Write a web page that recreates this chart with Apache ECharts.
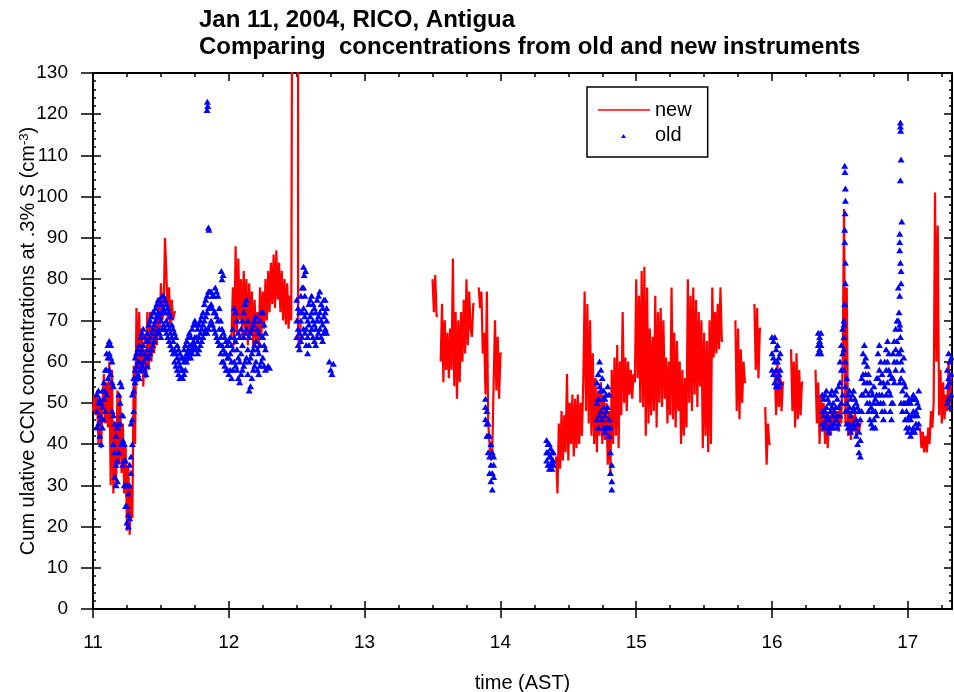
<!DOCTYPE html>
<html>
<head>
<meta charset="utf-8">
<script src="https://cdn.jsdelivr.net/npm/echarts@6/dist/echarts.min.js"></script>
<style>
html, body { margin: 0; padding: 0; background: #fff; }
#chart { width: 954px; height: 692px; }
</style>
</head>
<body>
<div id="chart"></div>
<script>
// time step (hours) between consecutive readings in each segment
const step = 0.01;

// "new" instrument, segments of readings, '-' = no data
const newStarts = [11.00, 12.02, 13.50, 14.41, 15.73, 16.32, 17.09];
const newA = [
  48, 52, 47, 53, 40, 51, 39, 50, 57, 45,
  55, 44, 60, 30, 58, 28, 45, 30, 53, 35,
  52, 33, 45, 28, 40, 19, 35, 18, 30, 22,
  59, 40, 73, 55, 72, 57, 68, 54, 63, 56,
  72, 58, 72, 60, 68, 62, 71, 64, 75, 66,
  79, 70, 72, 90, 82, 70, 78, 68, 75, 70,
  72
];
const newB = [
  66, 78, 64, 88, 67, 85, 70, 80, 66, 82,
  68, 80, 64, 79, 67, 77, 63, 75, 65, 72,
  63, 78, 66, 77, 68, 80, 70, 82, 72, 84,
  74, 86, 73, 87, 75, 84, 72, 82, 70, 80,
  69, 79, 68, 76, 70, 200, 200, 200, 200, 66,
  63, 70
];
const newC = [
  80, 72, 81, 71, '-', '-', 60, 74, 55, 70,
  58, 67, 56, 68, 58, 85, 54, 72, 51, 70,
  55, 72, 60, 75, 62, 80, 64, 77, 68, 66,
  74, '-', '-', '-', 78, 73, 77, 62, 67, 52,
  77, 45, 40, 36, 38, 55, 70, 53, 66, 51,
  62
];
const newD = [
  37, 28, 45, 34, 48, 36, 47, 38, 57, 36,
  50, 40, 52, 37, 51, 39, 52, 40, 50, 42,
  55, 77, 48, 74, 45, 70, 42, 62, 40, 56,
  38, 53, 42, 55, 40, 52, 41, 50, 35, 48,
  33, 58, 40, 61, 42, 64, 39, 60, 47, 72,
  50, 61, 48, 60, 52, 58, 51, 57, 55, 80,
  56, 76, 50, 82, 49, 83, 42, 78, 45, 68,
  47, 66, 48, 76, 44, 72, 50, 73, 49, 70,
  51, 61, 45, 60, 47, 78, 46, 67, 44, 65,
  48, 60, 40, 58, 42, 56, 44, 80, 50, 76,
  48, 78, 52, 75, 49, 72, 54, 70, 39, 67,
  42, 65, 38, 70, 40, 78, 61, 72, 62, 74,
  63, 78, 65
];
const newE = [
  70, 48, 68, 46, 63, 50, 60, 55, '-', '-',
  '-', '-', '-', '-', 74, 58, 73, 56, 68, '-',
  '-', '-', 49, 35, 45, 40, '-', '-', '-', 58,
  47, 60, 49, 57, 48, 55, '-', '-', '-', '-',
  '-', 63, 48, 60, 44, 62, 46, 58, 47, 55
];
const newF = [
  58, 45, 55, 40, 52, 43, 50, 40, 48, 39,
  47, 42, 50, 44, 49, 45, 48, 43, 50, 45,
  60, 97, 45, 78, 42, 48, 41, 47, 43, 48,
  42, 46, 43, 45
];
const newG = [
  44, 39, 43, 38, 42, 38, 44, 40, 48, 44,
  50, 101, 60, 93, 47, 58, 45, 55, 46, 52,
  48, 60, 50, 57
];
const newSegments = [newA, newB, newC, newD, newE, newF, newG];

// "old" instrument, several readings per time step
const oldStarts = [11.03, 12.50, 13.89, 14.34, 14.71, 16.00, 16.34, 17.29];
const oldA = [
  [44,48,52],[45,50,53],[42,47,51],[40,46,50],[44,49,53],[46,51,55],[48,53,58],[52,58,62],[56,61,64],[58,62,65],
  [57,61,64],[48,55,60],[40,47,54],[32,38,45],[30,35,42],[31,36,44],[38,45,52],[45,50,55],[40,47,54],[35,41,47],
  [30,36,40],[25,30,36],[21,25,30],[20,23,28],[22,30,35],[33,37,45],[40,46,52],[48,53,56],[55,58,61],[56,59,62],
  [57,60,63],[56,60,64],[58,62,66],[59,63,67],[60,64,68],[58,62,66],[57,61,65],[59,63,67],[61,65,69],[62,66,70],
  [63,67,71],[64,68,72],[65,69,72],[66,70,73],[67,71,74],[68,72,75],[67,71,75],[66,70,74],[68,72,76],[69,73,76],
  [68,72,75],[67,70,74],[66,69,73],[65,68,72],[64,67,71],[63,66,69],[62,65,68],[60,63,67],[59,62,66],[58,61,64],
  [57,60,63],[56,59,62],[56,58,61],[56,58,61],[57,60,63],[58,61,64],[60,62,65],[61,63,66],[62,64,67],[61,63,66],
  [62,64,68],[63,65,69],[64,66,70],[63,66,69],[62,65,68],[63,66,69],[64,67,70],[65,68,71],[66,69,72],[67,70,74],
  [68,71,75],[67,72,76],[68,73,77],[69,73,77],[70,74,77],[69,73,76],[68,72,76],[67,72,78],[66,71,77],[65,70,76],
  [64,68,73],[62,66,70],[60,64,68],[60,63,67],[59,62,66],[58,62,65],[58,61,64],[57,61,65],[58,62,66],[56,60,64],
  [58,63,68],[60,66,73],[59,65,72],[58,63,70],[56,61,67],[55,60,66],[57,62,68],[58,64,70],[59,66,72],[60,67,74],
  [61,68,75],[57,63,70],[53,60,66],[54,61,67],[56,62,68],[58,63,69],[59,64,70],[60,65,71],[58,63,68],[57,62,67],
  [59,64,70],[60,66,72],[61,66,72],[59,64,69],[58,63,67]
];
const oldB = [
  [66,70,75],[64,68,73],[63,67,72],[65,70,76],[66,72,78],[68,73,78],[67,71,76],[64,68,72],[62,66,70],[64,69,74],
  [67,71,75],[68,72,76],[66,70,74],[65,69,73],[64,68,72],[66,70,75],[67,71,76],[68,72,77],[66,70,74],[65,69,73],
  [67,71,75],[68,72,75],[67,70,73]
];
const oldC = [[46,49,51],[42,45,48],[38,42,45],[33,37,42],[31,35,40],[29,33,38],[32,35,37]];
const oldD = [[36,38,41],[35,38,40],[34,37,40],[35,37,39],[34,36,38],[35,36,38]];
const oldE = [
  [46,50,55],[44,51,57],[47,54,60],[48,53,58],[46,51,56],[44,49,53],[43,47,51],[44,48,52],[44,49,54],[42,46,52],
  [33,38,44],[29,31,35]
];
const oldF = [[58,62,66],[57,61,65],[55,60,66],[54,58,63],[56,60,64],[54,57,61],[55,58,62]];
const oldG = [
  [62,64,67],[63,65,66],[62,64,67],[45,48,52],[44,47,51],[45,48,52],[46,49,53],[44,47,51],[43,46,50],[44,48,52],
  [45,49,53],[44,47,50],[45,48,52],[46,49,53],[44,47,51],[45,49,54],[47,55,60],[50,58,64],[52,62,68],[58,63,69],
  [48,54,60],[45,50,56],[44,48,52],[45,49,53],[43,47,51],[44,48,52],[45,49,53],[44,48,51],[42,46,50],[40,45,49],
  [38,43,48],[37,41,46],[48,52,56],[52,57,62],[55,60,64],[53,57,61],[50,55,59],[48,52,57],[46,50,55],[45,49,53],
  [44,48,52],[46,50,54],[44,48,51],[47,52,56],[50,56,62],[52,58,64],[50,55,60],[48,52,57],[46,50,55],[48,54,60],
  [52,58,63],[55,60,65],[53,58,62],[48,52,57],[46,50,56],[50,56,62],[55,60,65],[58,63,68],[60,65,70],[62,70,78],
  [55,62,68],[50,56,60],[48,53,58],[50,55,61],[46,50,54],[44,48,52],[43,46,50],[44,47,51],[42,46,50],[43,47,51],
  [44,48,52],[43,47,51],[45,48,51],[44,47,50],[45,49,53]
];
const oldH = [[50,54,58],[51,56,62],[49,55,60],[52,57,61]];
const oldSegments = [oldA, oldB, oldC, oldD, oldE, oldF, oldG, oldH];

// isolated "old" readings [time, value]
const oldExtra = [
  [11.84,121],[11.842,123],[11.845,122],[11.85,92.5],[11.853,92],[11.945,82],[11.95,80],[11.958,81],
  [12.29,59],[12.30,58.5],[12.55,83],[12.555,81],[12.565,82],[12.74,60],[12.75,58],[12.76,57],[12.77,59.5],
  [16.535,107.5],[16.537,106],[16.54,102],[16.54,99],[16.538,96],[16.535,92],[16.535,89],[16.54,84],
  [16.54,79],[16.535,74],[16.53,70],[16.53,66],
  [16.945,118],[16.945,117],[16.947,116],[16.95,109],[16.945,104],[16.955,94],[16.94,91],[16.94,89],
  [16.94,87],[16.945,84],[16.95,82],[16.95,79],[16.94,76],[16.935,72],[16.94,69],[16.945,66],[16.95,63]
];

const xTicks = { min: 11, max: 17.325, major: 1, minor: 0.25 };
const yTicks = { min: 0, max: 130, major: 10, minor: 2 };

function buildNew() {
  const out = [];
  newSegments.forEach((seg, k) => {
    seg.forEach((v, i) => out.push([+(newStarts[k] + i * step).toFixed(3), v]));
    out.push([+(newStarts[k] + seg.length * step).toFixed(3), '-']);
  });
  return out;
}

function buildOld() {
  const out = [];
  oldSegments.forEach((seg, k) => {
    seg.forEach((vals, i) => {
      const t = +(oldStarts[k] + i * step).toFixed(3);
      vals.forEach(v => out.push([t, v]));
    });
  });
  oldExtra.forEach(p => out.push(p));
  return out;
}

const font = 'Liberation Sans, Arial, sans-serif';
const black = '#000';

function xAx(position, interval, len, inside, withLine, withLabel) {
  return {
    type: 'value', position: position, min: xTicks.min, max: xTicks.max, interval: interval,
    axisLine: { show: withLine, onZero: false, lineStyle: { color: black, width: 2 } },
    axisTick: { show: true, inside: inside, length: len, lineStyle: { color: black, width: 1.5 } },
    axisLabel: withLabel ? {
      show: true, color: black, fontSize: 19, fontFamily: font, margin: 24,
      showMaxLabel: false,
      formatter: v => (Number.isInteger(v) ? String(v) : '')
    } : { show: false },
    splitLine: { show: false }
  };
}

function yAx(position, interval, len, inside, withLine, withLabel) {
  return {
    type: 'value', position: position, min: yTicks.min, max: yTicks.max, interval: interval,
    axisLine: { show: withLine, onZero: false, lineStyle: { color: black, width: 2 } },
    axisTick: { show: true, inside: inside, length: len, lineStyle: { color: black, width: 1.5 } },
    axisLabel: withLabel ? { show: true, color: black, fontSize: 19, fontFamily: font, margin: 25 } : { show: false },
    splitLine: { show: false }
  };
}

const xMain = xAx('bottom', xTicks.major, 9, false, true, true);
xMain.name = 'time (AST)';
xMain.nameLocation = 'middle';
xMain.nameGap = 64;
xMain.nameMoveOverlap = false;
xMain.nameTextStyle = { color: black, fontSize: 20, fontFamily: font };

const yMain = yAx('left', yTicks.major, 12, false, true, true);
yMain.name = 'Cum ulative CCN concentrations at .3% S (cm{sup|-3})';
yMain.nameLocation = 'middle';
yMain.nameRotate = 90;
yMain.nameGap = 54;
yMain.nameMoveOverlap = false;
yMain.nameTextStyle = {
  color: black, fontSize: 20, fontFamily: font,
  rich: { sup: { fontSize: 13, fontFamily: font, color: black, verticalAlign: 'top', padding: [0, 0, 8, 0] } }
};

const chart = echarts.init(document.getElementById('chart'));
chart.setOption({
  animation: false,
  backgroundColor: '#fff',
  title: {
    text: 'Jan 11, 2004, RICO, Antigua\nComparing  concentrations from old and new instruments',
    left: 199, top: 7, padding: 0,
    textStyle: { color: black, fontSize: 24, fontWeight: 'bold', fontFamily: font, lineHeight: 27 }
  },
  legend: {
    orient: 'vertical', left: 587, top: 87,
    padding: [13, 16, 12, 11], itemGap: 5, itemWidth: 52, itemHeight: 14,
    borderColor: black, borderWidth: 1.5,
    textStyle: { color: black, fontSize: 20, fontFamily: font },
    data: [
      { name: 'new', icon: 'path://M0,0M52,14M0,6.2L52,6.2L52,7.8L0,7.8Z' },
      { name: 'old', icon: 'path://M0,0M52,14M23,10L28,10L25.5,6Z' }
    ]
  },
  grid: { left: 93, right: 2, top: 73, bottom: 83, containLabel: false, outerBoundsMode: 'none' },
  xAxis: [
    xMain,
    xAx('bottom', xTicks.major, 8, true, false, false),
    xAx('bottom', xTicks.minor, 4, true, false, false),
    xAx('top', xTicks.major, 8, true, true, false),
    xAx('top', xTicks.minor, 4, true, false, false)
  ],
  yAxis: [
    yMain,
    yAx('left', yTicks.major, 8, true, false, false),
    yAx('left', yTicks.minor, 3, true, false, false),
    yAx('right', yTicks.major, 8, true, true, false),
    yAx('right', yTicks.minor, 3, true, false, false)
  ],
  series: [
    {
      name: 'new', type: 'line', data: buildNew(),
      xAxisIndex: 0, yAxisIndex: 0,
      step: 'end',
      symbol: 'none', showSymbol: false, connectNulls: false,
      lineStyle: { color: '#ff0000', width: 2.2 },
      itemStyle: { color: '#ff0000' },
      z: 2
    },
    {
      name: 'old', type: 'scatter', data: buildOld(),
      xAxisIndex: 0, yAxisIndex: 0,
      symbol: 'triangle', symbolSize: [7, 6],
      itemStyle: { color: '#0000ff', opacity: 1 },
      z: 3
    }
  ]
});
</script>
</body>
</html>
